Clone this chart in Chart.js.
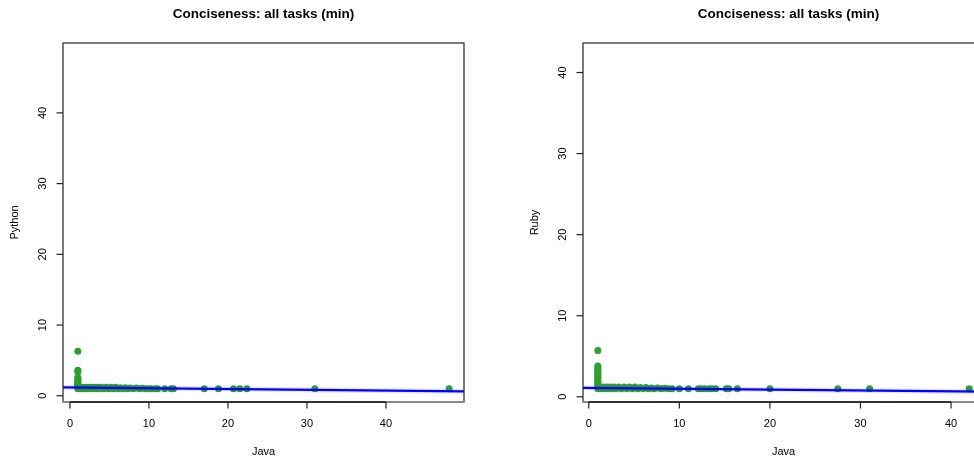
<!DOCTYPE html>
<html>
<head>
<meta charset="utf-8">
<script src="https://cdn.jsdelivr.net/npm/chart.js@4"></script>
<style>
html, body { margin: 0; padding: 0; background: #fff; overflow: hidden; width: 974px; height: 465px; }
#left { position: absolute; left: 0; top: 0; width: 487px; height: 465px; }
#right { position: absolute; left: 487px; top: 0; width: 540px; height: 465px; }
</style>
</head>
<body>
<canvas id="left" width="487" height="465"></canvas>
<canvas id="right" width="540" height="465"></canvas>
<script>
const title = 'Conciseness: all tasks (min)';
const tickValues = [0, 10, 20, 30, 40];

// Python vs Java
const pyJava = [
  1, 1, 1, 1, 1, 1, 1, 1, 1, 1, 1, 1, 1, 1, 1,
  1.2, 1.4, 1.6, 1.8, 2.0, 2.2, 2.4, 2.6, 2.8, 3.0, 3.2, 3.4, 3.6, 3.8, 4.0,
  4.3, 4.6, 4.9, 5.2, 5.5, 5.8, 6.1, 6.4, 6.7, 7.0, 7.3, 7.6, 8.0, 8.4, 8.8,
  9.2, 9.6, 10.0, 10.3, 10.8, 11.1, 12.0, 12.8, 13.1, 17.0, 18.8, 20.7, 21.5, 22.4, 31.0, 48.0
];
const pyPython = [
  6.3, 3.6, 3.4, 2.6, 2.4, 2.2, 2.0, 1.8, 1.6, 1.5, 1.4, 1.3, 1.2, 1.1, 1.0,
  1.2, 1.0, 1.2, 1.0, 1.2, 1.0, 1.2, 1.0, 1.2, 1.0, 1.2, 1.0, 1.2, 1.0, 1.2,
  1.0, 1.2, 1.0, 1.2, 1.0, 1.2, 1.0, 1.15, 1.0, 1.15, 1.0, 1.1, 1.0, 1.1, 1.0,
  1.05, 1.0, 1.0, 1.0, 1.0, 1.0, 1.0, 1.0, 1.0, 1.0, 1.0, 1.0, 1.0, 1.0, 1.0, 1.0
];
const pyFitX = [-1, 50];
const pyFitY = [1.19, 0.62];
const pyRange = [-0.88, 49.88];

// Ruby vs Java
const rbJava = [
  1, 1, 1, 1, 1, 1, 1, 1, 1, 1, 1, 1, 1, 1, 1, 1,
  1.2, 1.4, 1.6, 1.8, 2.0, 2.2, 2.4, 2.6, 2.8, 3.0, 3.3, 3.6, 3.9, 4.2, 4.5,
  4.8, 5.1, 5.4, 5.7, 6.0, 6.3, 6.6, 6.9, 7.2, 7.6, 8.0, 8.4, 8.8, 9.2,
  10.0, 11.0, 12.1, 12.4, 12.8, 13.3, 13.6, 14.0, 15.2, 15.45, 16.4, 20.0, 27.5, 31.0, 42.0
];
const rbRuby = [
  5.7, 3.8, 3.6, 3.4, 3.2, 3.0, 2.8, 2.6, 2.4, 2.2, 2.0, 1.8, 1.6, 1.4, 1.2, 1.0,
  1.2, 1.0, 1.2, 1.0, 1.2, 1.0, 1.2, 1.0, 1.2, 1.0, 1.2, 1.0, 1.2, 1.0, 1.2,
  1.0, 1.2, 1.0, 1.15, 1.0, 1.15, 1.0, 1.1, 1.0, 1.1, 1.0, 1.05, 1.0, 1.0,
  1.0, 1.0, 1.0, 1.0, 1.0, 1.0, 1.0, 1.0, 1.0, 1.0, 1.0, 1.0, 1.0, 1.0, 1.0
];
const rbFitX = [-1, 45];
const rbFitY = [1.11, 0.62];
const rbRange = [-0.64, 43.64];

const FONT = '"Liberation Sans", Arial, Helvetica, sans-serif';

// R-style box, axes and labels drawn from the chart's own scales
const rFrame = {
  id: 'rFrame',
  afterDatasetsDraw(chart, args, opts) {
    const { ctx, chartArea: a, scales: { x, y } } = chart;
    ctx.save();
    ctx.strokeStyle = '#222';
    ctx.lineWidth = 1.2;
    ctx.strokeRect(a.left, a.top, a.right - a.left, a.bottom - a.top);

    // bottom edge looks heavier
    ctx.strokeStyle = '#888';
    ctx.lineWidth = 2;
    ctx.beginPath();
    ctx.moveTo(a.left, a.bottom);
    ctx.lineTo(a.right, a.bottom);
    ctx.stroke();

    ctx.strokeStyle = '#333';
    ctx.beginPath();
    ctx.moveTo(x.getPixelForValue(tickValues[0]), a.bottom);
    ctx.lineTo(x.getPixelForValue(tickValues[tickValues.length - 1]), a.bottom);
    ctx.stroke();

    ctx.fillStyle = '#000';
    ctx.font = '11px ' + FONT;
    ctx.textAlign = 'center';
    ctx.textBaseline = 'middle';
    ctx.lineWidth = 1.2;
    ctx.strokeStyle = '#222';

    tickValues.forEach(v => {
      const px = x.getPixelForValue(v);
      ctx.beginPath();
      ctx.moveTo(px, a.bottom);
      ctx.lineTo(px, a.bottom + 6.5);
      ctx.stroke();
      ctx.fillText(String(v), px, a.bottom + 21.5);
    });

    tickValues.forEach(v => {
      const py = y.getPixelForValue(v);
      ctx.beginPath();
      ctx.moveTo(a.left, py);
      ctx.lineTo(a.left - 6.5, py);
      ctx.stroke();
      ctx.save();
      ctx.translate(a.left - 20.5, py);
      ctx.rotate(-Math.PI / 2);
      ctx.fillText(String(v), 0, 0);
      ctx.restore();
    });

    ctx.fillText(opts.xLabel, (a.left + a.right) / 2, a.bottom + 49.5);
    ctx.save();
    ctx.translate(a.left - 48.5, (a.top + a.bottom) / 2);
    ctx.rotate(-Math.PI / 2);
    ctx.fillText(opts.yLabel, 0, 0);
    ctx.restore();

    ctx.font = 'bold 13.5px ' + FONT;
    ctx.fillText(title, (a.left + a.right) / 2 + opts.titleShift, 14);
    ctx.restore();
  }
};

function makeChart(id, xs, ys, fitX, fitY, range, yLabel, padding, titleShift) {
  const points = xs.map((v, i) => ({ x: v, y: ys[i] }));
  const fit = fitX.map((v, i) => ({ x: v, y: fitY[i] }));
  return new Chart(document.getElementById(id), {
    type: 'scatter',
    data: {
      datasets: [
        {
          data: fit,
          showLine: true,
          borderColor: '#0000ff',
          borderWidth: 2.4,
          pointRadius: 0,
          clip: 0
        },
        {
          data: fit,
          showLine: true,
          borderColor: 'rgba(0,0,255,0.1)',
          borderWidth: 5,
          pointRadius: 0,
          clip: 0
        },
        {
          data: points,
          backgroundColor: '#2ca02c',
          borderWidth: 0,
          pointRadius: 3.5,
          clip: 0
        }
      ]
    },
    options: {
      responsive: false,
      animation: false,
      layout: { padding: padding },
      scales: {
        x: { type: 'linear', min: range[0], max: range[1], display: false },
        y: { type: 'linear', min: range[0], max: range[1], display: false }
      },
      plugins: {
        legend: { display: false },
        tooltip: { enabled: false },
        rFrame: { xLabel: 'Java', yLabel: yLabel, titleShift: titleShift }
      }
    },
    plugins: [rFrame]
  });
}

makeChart('left', pyJava, pyPython, pyFitX, pyFitY, pyRange, 'Python',
  { left: 63, top: 43, right: 23, bottom: 63 }, 0);
makeChart('right', rbJava, rbRuby, rbFitX, rbFitY, rbRange, 'Ruby',
  { left: 96, top: 43, right: 43, bottom: 63 }, 5);
</script>
</body>
</html>
